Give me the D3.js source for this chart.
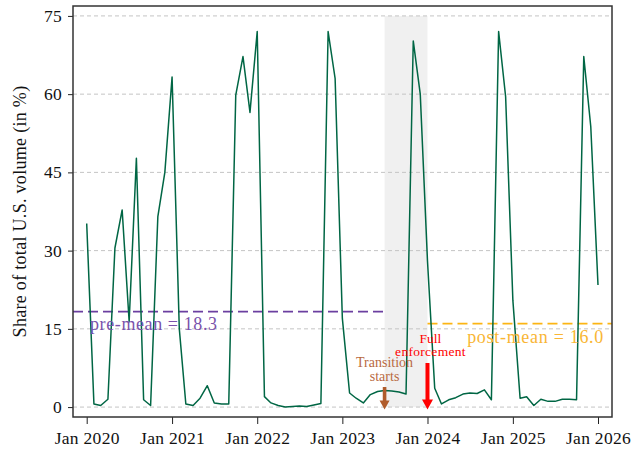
<!DOCTYPE html>
<html>
<head>
<meta charset="utf-8">
<script src="https://cdn.jsdelivr.net/npm/d3@7"></script>
<style>
  body { margin: 0; background: #fff; }
  text { font-family: "Liberation Serif", serif; }
</style>
</head>
<body>
<div id="chart"></div>
<script>
// monthly share values (in %), Jan 2020 .. Jan 2026
var firstMonth = "2020-01";
var values2020 = [35.2, 0.6, 0.3, 1.5, 30.5, 37.8, 16.4, 47.7, 1.4, 0.3, 36.5, 45.0];
var values2021 = [63.3, 15.0, 0.6, 0.3, 1.7, 4.1, 0.8, 0.6, 0.6, 59.8, 67.2, 56.5];
var values2022 = [72.0, 2.0, 0.8, 0.3, 0.0, 0.1, 0.2, 0.1, 0.4, 0.7, 72.0, 63.0];
var values2023 = [17.0, 2.7, 1.7, 0.8, 2.4, 3.0, 3.2, 3.1, 2.9, 2.5, 70.2, 60.0];
var values2024 = [28.0, 3.6, 0.6, 1.4, 1.8, 2.5, 2.7, 2.6, 3.3, 1.4, 72.0, 59.5];
var values2025 = [20.5, 1.7, 2.0, 0.3, 1.5, 1.1, 1.1, 1.5, 1.5, 1.4, 67.2, 53.8];
var values2026 = [23.4];

var yTicks = [0, 15, 30, 45, 60, 75];
var xTickYears = ["2020-01", "2021-01", "2022-01", "2023-01", "2024-01", "2025-01", "2026-01"];

var preMean = 18.3;
var postMean = 16.0;
var transitionStart = "2023-07";
var fullEnforcement = "2024-01";

var svgWidth = 644;
var svgHeight = 455;

var margin = {
    top: 6,
    right: 32,
    bottom: 38,
    left: 73
};

var chartWidth = svgWidth - margin.left - margin.right;
var chartHeight = svgHeight - margin.top - margin.bottom;

var parseMonth = d3.timeParse("%Y-%m");

var allValues = [].concat(values2020, values2021, values2022, values2023, values2024, values2025, values2026);
var series = allValues.map(function(v, i) {
    return { date: d3.timeMonth.offset(parseMonth(firstMonth), i), value: v };
});

var svg = d3.select("#chart")
    .append("svg")
    .attr("width", svgWidth)
    .attr("height", svgHeight);

var chartGroup = svg.append("g")
    .attr("transform", `translate(${margin.left}, ${margin.top})`);

// scales
var xTimeScale = d3.scaleTime()
    .domain([parseMonth("2020-01"), parseMonth("2026-01")])
    .range([13.7, chartWidth - 14]);

var yLinearScale = d3.scaleLinear()
    .domain([-1.9, 76.9])
    .range([chartHeight, 0]);

// shaded transition window
chartGroup.append("rect")
    .attr("x", xTimeScale(parseMonth(transitionStart)))
    .attr("y", yLinearScale(75))
    .attr("width", xTimeScale(parseMonth(fullEnforcement)) - xTimeScale(parseMonth(transitionStart)))
    .attr("height", yLinearScale(0) - yLinearScale(75))
    .attr("fill", "#f0f0f0");

// gridlines
chartGroup.selectAll(".grid")
    .data(yTicks)
    .enter()
    .append("line")
    .attr("x1", 0)
    .attr("x2", chartWidth)
    .attr("y1", d => yLinearScale(d))
    .attr("y2", d => yLinearScale(d))
    .attr("stroke", "#c4c4c4")
    .attr("stroke-width", 1)
    .attr("stroke-dasharray", "4,3");

// mean lines
chartGroup.append("line")
    .attr("x1", 0)
    .attr("x2", xTimeScale(parseMonth(transitionStart)))
    .attr("y1", yLinearScale(preMean))
    .attr("y2", yLinearScale(preMean))
    .attr("stroke", "#6b3fa0")
    .attr("stroke-width", 1.7)
    .attr("stroke-dasharray", "10,5");

chartGroup.append("line")
    .attr("x1", xTimeScale(parseMonth(fullEnforcement)))
    .attr("x2", chartWidth)
    .attr("y1", yLinearScale(postMean))
    .attr("y2", yLinearScale(postMean))
    .attr("stroke", "#fcb514")
    .attr("stroke-width", 1.7)
    .attr("stroke-dasharray", "10,5");

// data line
var line = d3.line()
    .x(d => xTimeScale(d.date))
    .y(d => yLinearScale(d.value));

chartGroup.append("path")
    .datum(series)
    .attr("d", line)
    .attr("fill", "none")
    .attr("stroke", "#006644")
    .attr("stroke-width", 1.5)
    .attr("stroke-linejoin", "round");

// mean labels
chartGroup.append("text")
    .attr("x", 17)
    .attr("y", yLinearScale(preMean) + 18)
    .attr("font-size", "18px")
    .attr("letter-spacing", "0.6px")
    .attr("fill", "#7a52ab")
    .text("pre-mean = " + preMean.toFixed(1));

chartGroup.append("text")
    .attr("x", chartWidth - 8)
    .attr("y", yLinearScale(postMean) + 19)
    .attr("text-anchor", "end")
    .attr("font-size", "18px")
    .attr("letter-spacing", "0.7px")
    .attr("fill", "#f9b634")
    .text("post-mean = " + postMean.toFixed(1));

// arrows + annotations
function drawArrow(xPos, yTop, color, shaftW, headW, headH) {
    var yTip = yLinearScale(0) + 2.5;
    var yHead = yTip - headH;
    chartGroup.append("path")
        .attr("d", `M${xPos - shaftW / 2},${yTop} L${xPos + shaftW / 2},${yTop} L${xPos + shaftW / 2},${yHead} ` +
                   `L${xPos + headW / 2},${yHead} L${xPos},${yTip} L${xPos - headW / 2},${yHead} ` +
                   `L${xPos - shaftW / 2},${yHead} Z`)
        .attr("fill", color);
}

var xTrans = xTimeScale(parseMonth(transitionStart));
var xFull = xTimeScale(parseMonth(fullEnforcement));

drawArrow(xTrans, 381, "#b05c2c", 3.6, 10, 9);
drawArrow(xFull, 357, "#ff0000", 4, 11, 10);

chartGroup.append("text")
    .attr("x", xTrans)
    .attr("y", 361)
    .attr("text-anchor", "middle")
    .attr("font-size", "14px")
    .attr("fill", "#b8693f")
    .text("Transition");

chartGroup.append("text")
    .attr("x", xTrans)
    .attr("y", 374.5)
    .attr("text-anchor", "middle")
    .attr("font-size", "14px")
    .attr("fill", "#b8693f")
    .text("starts");

chartGroup.append("text")
    .attr("x", xFull + 3)
    .attr("y", 336.5)
    .attr("text-anchor", "middle")
    .attr("font-size", "13.5px")
    .attr("fill", "#ff0000")
    .text("Full");

chartGroup.append("text")
    .attr("x", xFull + 3)
    .attr("y", 350)
    .attr("text-anchor", "middle")
    .attr("font-size", "13.5px")
    .attr("letter-spacing", "0.3px")
    .attr("fill", "#ff0000")
    .text("enforcement");

// axes
var bottomAxis = d3.axisBottom(xTimeScale)
    .tickValues(xTickYears.map(parseMonth))
    .tickFormat(d3.timeFormat("Jan %Y"))
    .tickSizeInner(7)
    .tickSizeOuter(0)
    .tickPadding(8);

var leftAxis = d3.axisLeft(yLinearScale)
    .tickValues(yTicks)
    .tickSizeInner(5)
    .tickSizeOuter(0)
    .tickPadding(6);

var xAxisG = chartGroup.append("g")
    .attr("transform", `translate(0, ${chartHeight})`)
    .call(bottomAxis);

var yAxisG = chartGroup.append("g")
    .call(leftAxis);

[xAxisG, yAxisG].forEach(function(g) {
    g.select(".domain").remove();
    g.selectAll("text")
        .attr("font-family", "Liberation Serif, serif")
        .attr("font-size", "17.5px")
        .attr("letter-spacing", "0.3px")
        .attr("fill", "#111");
    g.selectAll("line").attr("stroke", "#222");
});

// frame
chartGroup.append("rect")
    .attr("x", 0)
    .attr("y", 0)
    .attr("width", chartWidth)
    .attr("height", chartHeight)
    .attr("fill", "none")
    .attr("stroke", "#333")
    .attr("stroke-width", 1.5);

// y-axis title
chartGroup.append("text")
    .attr("transform", "rotate(-90)")
    .attr("x", 0 - (chartHeight / 2))
    .attr("y", 0 - margin.left + 26)
    .attr("text-anchor", "middle")
    .attr("font-size", "18px")
    .attr("letter-spacing", "0.3px")
    .attr("fill", "#111")
    .text("Share of total U.S. volume (in %)");
</script>
</body>
</html>
